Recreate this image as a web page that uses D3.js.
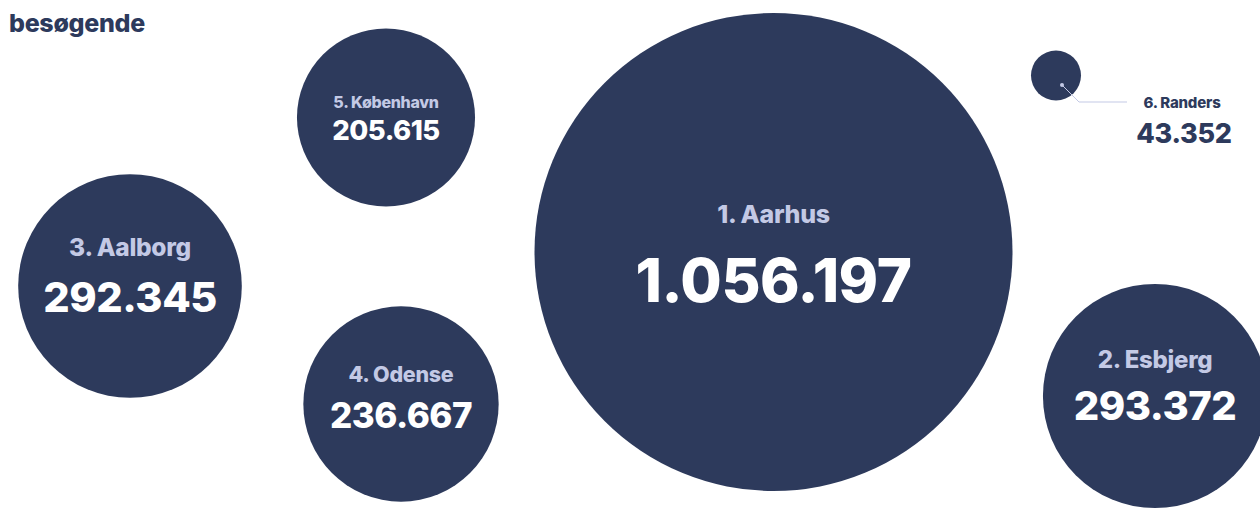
<!DOCTYPE html>
<html>
<head>
<meta charset="utf-8">
<script src="https://cdn.jsdelivr.net/npm/d3@7"></script>
<style>
  html, body { margin: 0; padding: 0; background: #ffffff; }
  svg { display: block; font-family: "Inter", "Lato", sans-serif; }
</style>
</head>
<body>
<svg id="chart" width="1260" height="509"></svg>
<script>
// ---- data ----
const ranks  = [1, 2, 3, 4, 5, 6];
const cities = ["Aarhus", "Esbjerg", "Aalborg", "Odense", "København", "Randers"];
const values = [1056197, 293372, 292345, 236667, 205615, 43352];
const titleLines = ["besøgende"];

// ---- layout (positions / styles, kept separate from data) ----
const centerX   = [773.5, 1155, 130, 401, 386, 1056];
const centerY   = [252, 396, 286, 404, 117.5, 75.5];
const labelSize = [25, 24, 24.5, 21.5, 16, 15];
const valueSize = [60, 40, 41.5, 35, 27.5, 27];
const labelDy   = [-29, -28, -30, -22, -10, 0];
const valueDy   = [50, 24, 26, 24, 22.5, 0];

const navy = "#2d3a5c";
const lavender = "#c3c9e5";

const svg = d3.select("#chart");

const rScale = d3.scaleSqrt()
  .domain([d3.min(values), d3.max(values)])
  .range([25, 239]);

const fmt = d3.formatLocale({ decimal: ",", thousands: ".", grouping: [3], currency: ["", " kr."] }).format(",d");

const data = ranks.map((rk, i) => ({
  rank: rk, city: cities[i], value: values[i],
  cx: centerX[i], cy: centerY[i], ls: labelSize[i], vs: valueSize[i],
  ldy: labelDy[i], vdy: valueDy[i]
}));

// title
svg.append("g").selectAll("text").data(titleLines).join("text")
  .attr("x", 9).attr("y", 32)
  .attr("fill", navy)
  .attr("font-size", 25).attr("font-weight", 800)
  .attr("letter-spacing", -0.3)
  .text(d => d);

// circles
svg.append("g").selectAll("circle").data(data).join("circle")
  .attr("cx", d => d.cx).attr("cy", d => d.cy)
  .attr("r", d => rScale(d.value))
  .attr("fill", navy);

// inside labels (all but the smallest)
const inside = data.filter(d => d.rank !== 6);
const g = svg.append("g").selectAll("g").data(inside).join("g")
  .attr("transform", d => `translate(${d.cx},${d.cy})`);

g.append("text")
  .attr("text-anchor", "middle")
  .attr("y", d => d.ldy)
  .attr("fill", lavender)
  .attr("font-size", d => d.ls).attr("font-weight", 800)
  .attr("letter-spacing", -0.3)
  .text(d => `${d.rank}. ${d.city}`);

g.append("text")
  .attr("text-anchor", "middle")
  .attr("y", d => d.vdy)
  .attr("fill", "#ffffff")
  .attr("font-size", d => d.vs).attr("font-weight", 800)
  .attr("letter-spacing", -0.5)
  .text(d => fmt(d.value));

// outside label for the smallest circle with leader line
const small = data.filter(d => d.rank === 6);
const sg = svg.append("g").selectAll("g").data(small).join("g");
sg.append("polyline")
  .attr("points", d => {
    const r = rScale(d.value);
    const x0 = d.cx + r * 0.24, y0 = d.cy + r * 0.38;
    return `${x0},${y0} ${x0 + 17},${y0 + 17} ${x0 + 65},${y0 + 17}`;
  })
  .attr("fill", "none").attr("stroke", lavender).attr("stroke-width", 1);
sg.append("circle")
  .attr("cx", d => d.cx + rScale(d.value) * 0.24)
  .attr("cy", d => d.cy + rScale(d.value) * 0.38)
  .attr("r", 2).attr("fill", lavender);
sg.append("text")
  .attr("x", 1182).attr("y", 108)
  .attr("text-anchor", "middle")
  .attr("fill", navy)
  .attr("font-size", d => d.ls).attr("font-weight", 800)
  .attr("letter-spacing", -0.2)
  .text(d => `${d.rank}. ${d.city}`);
sg.append("text")
  .attr("x", 1184).attr("y", 143)
  .attr("text-anchor", "middle")
  .attr("fill", navy)
  .attr("font-size", d => d.vs).attr("font-weight", 800)
  .attr("letter-spacing", -0.3)
  .text(d => fmt(d.value));
</script>
</body>
</html>
